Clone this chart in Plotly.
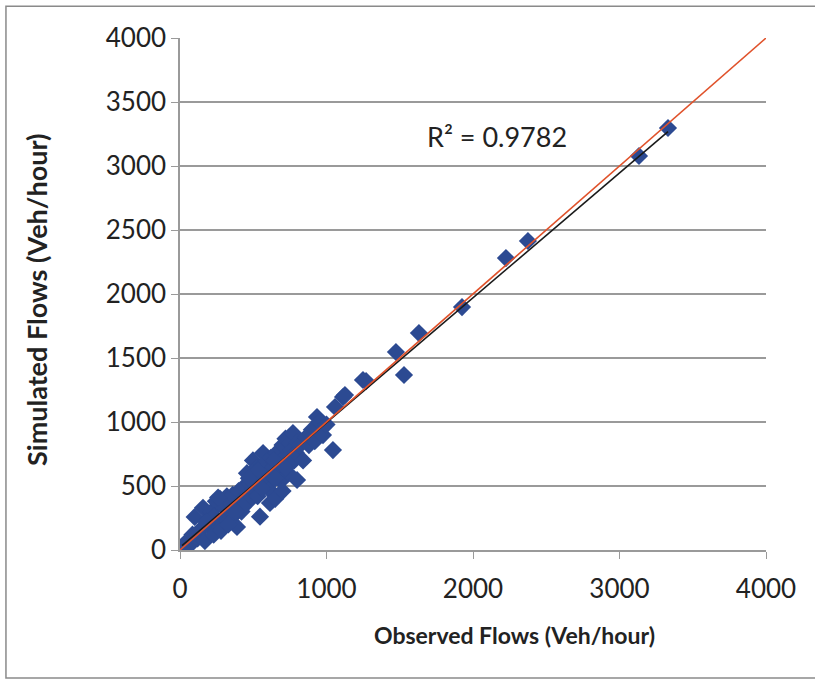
import plotly.graph_objects as go

# Observed vs simulated link flows (veh/hour)
observed = [
    14, 40, 60, 85, 100, 120, 140, 157, 170, 191, 200, 215, 230, 245, 260, 273, 280, 300,
    310, 320, 340, 350, 360, 375, 389, 400, 410, 420, 440, 450, 457, 470, 480, 498, 500,
    510, 520, 530, 546, 550, 560, 567, 580, 590, 600, 610, 614, 620, 630, 640, 650, 660,
    670, 680, 690, 700, 710, 720, 730, 740, 751, 760, 771, 780, 790, 799, 800, 820, 840,
    860, 880, 900, 920, 935, 950, 976, 1000, 1044, 1058, 1113, 1126, 1249, 1270,
    1474, 1529, 1631, 1925, 2225, 2375, 3133, 3331,
    230, 330, 430, 530, 650, 700, 180, 260, 380, 470, 560, 640, 720,
]
simulated = [
    16, 60, 30, 120, 258, 90, 160, 330, 70, 240, 180, 300, 120, 380, 200, 400, 150, 330,
    250, 420, 300, 360, 430, 280, 180, 460, 380, 300, 500, 420, 600, 380, 520, 700, 470,
    560, 640, 420, 260, 570, 660, 758, 520, 690, 600, 470, 367, 720, 580, 650, 400, 760,
    600, 690, 540, 820, 640, 870, 720, 600, 836, 780, 914, 700, 760, 547, 840, 820, 700,
    880, 820, 940, 850, 1039, 1000, 898, 980, 781, 1117, 1195, 1211, 1328, 1320,
    1547, 1367, 1695, 1898, 2281, 2414, 3078, 3297,
    260, 200, 340, 620, 560, 460, 220, 410, 300, 560, 480, 700, 640,
]

# Linear trendline (as reported with the chart) and the 1:1 reference line
trend_slope = 0.975
trend_intercept = 20.0
ref_line = [0, 4000]
r2_text = "R² = 0.9782"

axis_ticks = [0, 1000, 2000, 3000, 4000]
axis_tick_labels = ["0", "1000", "2000", "3000", "4000"]
y_ticks = [0, 500, 1000, 1500, 2000, 2500, 3000, 3500, 4000]

trend_x = [min(observed), max(observed)]
trend_y = [trend_slope * v + trend_intercept for v in trend_x]

font_family = "Lato, 'Noto Sans', sans-serif"
text_color = "#222222"
grid_color = "#9a9a9a"

fig = go.Figure()
fig.add_trace(go.Scatter(
    x=observed, y=simulated, mode="markers",
    marker=dict(symbol="diamond", size=14, color="#2C4A92", line=dict(width=0)),
    showlegend=False, hoverinfo="x+y",
))
fig.add_trace(go.Scatter(
    x=trend_x, y=trend_y, mode="lines",
    line=dict(color="#1a1a1a", width=1.6), showlegend=False,
))
fig.add_trace(go.Scatter(
    x=ref_line, y=ref_line, mode="lines",
    line=dict(color="#E0522B", width=1.6), showlegend=False,
))

fig.add_annotation(
    x=2164, y=3234, xref="x", yref="y", text=r2_text, showarrow=False,
    font=dict(family=font_family, size=27, color=text_color),
)

# Axis titles
fig.add_annotation(
    x=0.570, y=-0.166, xref="paper", yref="paper", showarrow=False,
    xanchor="center", yanchor="middle",
    text="<b>Observed Flows (Veh/hour)</b>",
    font=dict(family=font_family, size=23, color=text_color),
)
fig.add_annotation(
    x=-0.246, y=0.488, xref="paper", yref="paper", showarrow=False, textangle=-90,
    xanchor="center", yanchor="middle",
    text="<b>Simulated Flows (Veh/hour)</b>",
    font=dict(family=font_family, size=27, color=text_color),
)

# Outer chart frame
fig.add_shape(
    type="rect", xref="paper", yref="paper",
    x0=-0.297, x1=1.2, y0=-0.25, y1=1.062,
    line=dict(color="#8a8a8a", width=1.5), layer="below",
)

fig.update_xaxes(
    range=[0, 4000], tickvals=axis_ticks, ticktext=axis_tick_labels,
    showgrid=False, zeroline=False, showline=True, linecolor=grid_color, linewidth=1.5,
    ticks="outside", ticklen=7, tickcolor=grid_color, ticklabelstandoff=8,
    tickfont=dict(family=font_family, size=26, color=text_color),
)
fig.update_yaxes(
    range=[0, 4000], tickvals=y_ticks,
    showgrid=True, gridcolor=grid_color, gridwidth=1.5,
    zeroline=False, showline=True, linecolor=grid_color, linewidth=1.5,
    ticks="outside", ticklen=7, tickcolor=grid_color,
    tickfont=dict(family=font_family, size=26, color=text_color),
)

fig.update_layout(
    width=815, height=682,
    margin=dict(l=180, r=49, t=38, b=132),
    plot_bgcolor="white", paper_bgcolor="white",
)

fig.write_html("out.html")
